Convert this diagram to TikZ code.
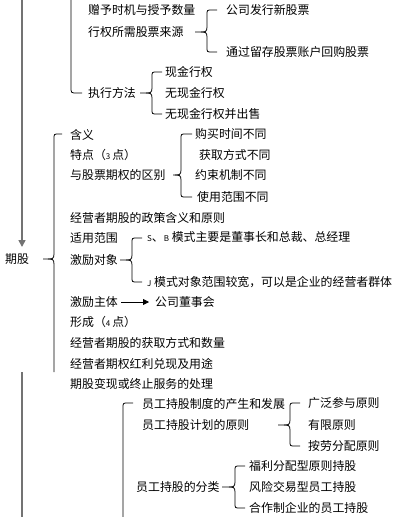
\documentclass[tikz,border=0pt]{standalone}
\usepackage{fontspec}
\newfontfamily\cjk{Noto Sans CJK SC}
\usetikzlibrary{arrows.meta}
\tikzset{
  txt/.style={anchor=west,inner sep=0pt,font=\cjk\fontsize{11.9}{14}\selectfont},
  brace/.style={draw=black,line width=0.8pt},
  trunk/.style={draw=gray!90!black,line width=1.6pt},
}
\newcommand\sm[1]{{\fontsize{8}{10}\selectfont #1}}
% x ytop ymid ybot tipx hookx
\newcommand\mybrace[6]{%
  \draw[brace] (#6,#2) -- (#1+5,#2) .. controls (#1,#2) .. (#1,#2+5) -- (#1,#3-5)
     .. controls (#1,#3) and (#1-2,#3) .. (#1-6,#3) -- (#5,#3);
  \draw[brace] (#1-6,#3) .. controls (#1-2,#3) and (#1,#3) .. (#1,#3+5) -- (#1,#4-5)
     .. controls (#1,#4) .. (#1+5,#4) -- (#6,#4);}
\begin{document}
\begin{tikzpicture}[x=1pt,y=-1pt]
\useasboundingbox (0,0) rectangle (405,517);
% trunks
\coordinate (t0) at (22,0);
\coordinate (t1) at (22,247);
\draw[trunk,-{Triangle[length=7pt,width=7pt]}] (t0) -- (t1);
\coordinate (t2) at (22,372);
\coordinate (t3) at (22,517);
\draw[trunk] (t2) -- (t3);
\node[txt] (qigu) at (5,259) {期股};

% top section
\draw[brace] (71,0) -- (71,87) .. controls (71,93) .. (77,93) -- (82,93);
\node[txt] (zengyu) at (88,10) {赠予时机与授予数量};
\node[txt] (laiyuan) at (88,32) {行权所需股票来源};
\node[txt] (zhixing) at (88,93) {执行方法};
\mybrace{207}{10}{32}{52}{195}{217}
\node[txt] (faxing) at (226,10) {公司发行新股票};
\node[txt] (huigou) at (226,52) {通过留存股票账户回购股票};
\mybrace{152}{72}{93}{114}{140}{162}
\node[txt] (xianjin) at (165,72) {现金行权};
\node[txt] (wuxian) at (165,93) {无现金行权};
\node[txt] (chushou) at (165,114) {无现金行权并出售};

% middle section
\draw[brace] (62,134) -- (59,134) .. controls (54,134) .. (54,139) -- (54,254)
   .. controls (54,259) and (52,259) .. (48,259) -- (43,259);
\draw[brace] (48,259) .. controls (52,259) and (54,259) .. (54,264) -- (54,372);
\node[txt] (hanyi) at (70,135) {含义};
\node[txt] (tedian) at (70,155) {特点（\sm{3}\,点）};
\node[txt] (qubie) at (70,175) {与股票期权的区别};
\mybrace{181}{134}{175}{197}{173}{192}
\node[txt] (goumai) at (195,134) {购买时间不同};
\node[txt] (huoqu) at (199,155) {获取方式不同};
\node[txt] (yueshu) at (195,175) {约束机制不同};
\node[txt] (shiyong) at (197,197) {使用范围不同};
\node[txt] (zhengce) at (70,218) {经营者期股的政策含义和原则};
\node[txt] (fanwei) at (70,238) {适用范围};
\node[txt] (duixiang) at (70,260) {激励对象};
\mybrace{132}{238}{260}{282}{120}{142}
\node[txt] (sb) at (147,237) {\sm{S}、\sm{B} 模式主要是董事长和总裁、总经理};
\node[txt] (jm) at (147,282) {\sm{J} 模式对象范围较宽，可以是企业的经营者群体};
\node[txt] (zhuti) at (70,302) {激励主体};
\node[txt] (dongshi) at (155,302) {公司董事会};
\draw[brace,-{Triangle[length=6pt,width=6pt]},shorten <=3pt,shorten >=6pt] (zhuti.east) -- (dongshi.west);
\node[txt] (xingcheng) at (70,322) {形成（\sm{4}\,点）};
\node[txt] (huoqufs) at (70,343) {经营者期股的获取方式和数量};
\node[txt] (hongli) at (70,364) {经营者期权红利兑现及用途};
\node[txt] (bianxian) at (70,384) {期股变现或终止服务的处理};

% bottom section
\draw[brace] (133,403) -- (128,403) .. controls (123,403) .. (123,408) -- (123,517);
\node[txt] (chansheng) at (142,404) {员工持股制度的产生和发展};
\node[txt] (yuanze) at (142,425) {员工持股计划的原则};
\mybrace{290}{403}{425}{446}{278}{300}
\node[txt] (guangfan) at (308,403) {广泛参与原则};
\node[txt] (youxian) at (308,425) {有限原则};
\node[txt] (anlao) at (308,446) {按劳分配原则};
\node[txt] (fenlei) at (136,487) {员工持股的分类};
\mybrace{235}{466}{487}{508}{222}{245}
\node[txt] (fuli) at (249,466) {福利分配型原则持股};
\node[txt] (fengxian) at (249,487) {风险交易型员工持股};
\node[txt] (hezuo) at (249,508) {合作制企业的员工持股};
\end{tikzpicture}
\end{document}
